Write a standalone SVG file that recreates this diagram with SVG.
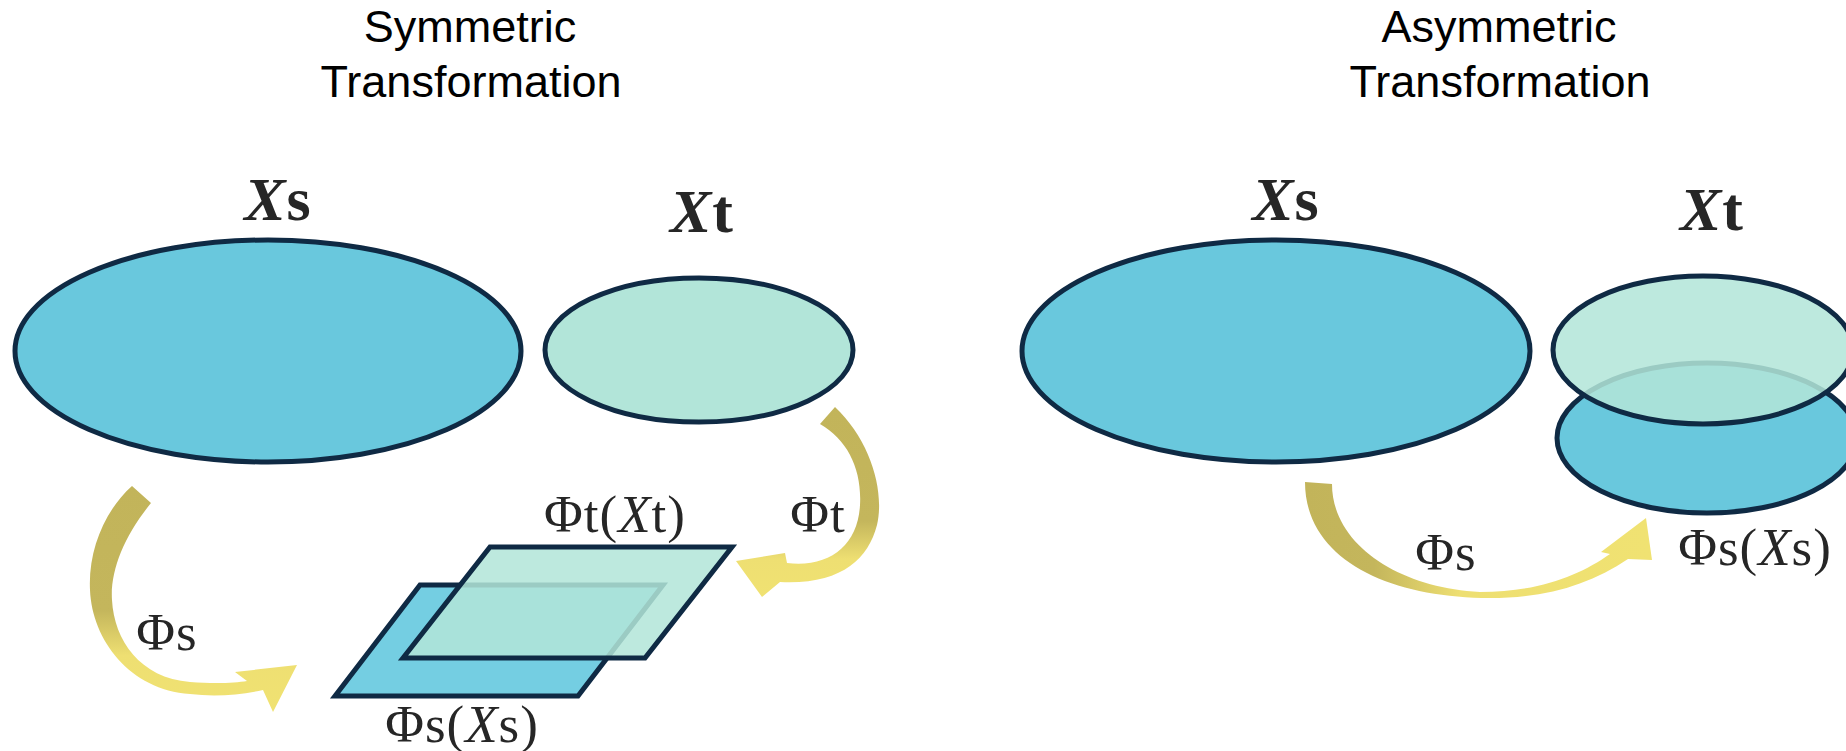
<svg xmlns="http://www.w3.org/2000/svg" width="1846" height="751" viewBox="0 0 1846 751">
  <style>
    .title { font-family: "Liberation Sans", Arial, sans-serif; font-size: 45px; fill: #000; text-anchor: middle; }
    .set { font-family: "Liberation Serif", "Times New Roman", serif; font-size: 62px; font-weight: bold; fill: #262626; text-anchor: middle; letter-spacing: 1px; }
    .set .v { font-style: italic; }
    .math { font-family: "Liberation Serif", "Times New Roman", serif; font-size: 53px; fill: #262626; text-anchor: middle; letter-spacing: 1px; }
    .math .v { font-style: italic; }
    .src { fill: #69C8DD; stroke: #0F2A44; stroke-width: 5; }
    .tgt { fill: #B2E5D9; stroke: #0F2A44; stroke-width: 5; }
    .tgt-over { fill: #B2E5D9; fill-opacity: 0.86; stroke: #0F2A44; stroke-width: 5; }
    .plane-src { fill: #74CEE2; stroke: #0F2A44; stroke-width: 5; stroke-linejoin: miter; }
    .plane-tgt { fill: #B2E5D9; fill-opacity: 0.86; stroke: #0F2A44; stroke-width: 5; stroke-linejoin: miter; }
  </style>
  <defs>
    <linearGradient id="gLeft" gradientUnits="userSpaceOnUse" x1="0" y1="486" x2="0" y2="712">
      <stop offset="0" stop-color="#C2B45A"/>
      <stop offset="0.55" stop-color="#C4B65C"/>
      <stop offset="0.75" stop-color="#EEDF72"/>
      <stop offset="1" stop-color="#F0E272"/>
    </linearGradient>
    <linearGradient id="gPhiT" gradientUnits="userSpaceOnUse" x1="0" y1="407" x2="0" y2="597">
      <stop offset="0" stop-color="#C2B45A"/>
      <stop offset="0.6" stop-color="#C4B65C"/>
      <stop offset="0.8" stop-color="#EEDF72"/>
      <stop offset="1" stop-color="#F0E272"/>
    </linearGradient>
    <linearGradient id="gRight" gradientUnits="userSpaceOnUse" x1="1305" y1="0" x2="1650" y2="0">
      <stop offset="0" stop-color="#C2B45A"/>
      <stop offset="0.2" stop-color="#C4B65C"/>
      <stop offset="0.45" stop-color="#EEDF72"/>
      <stop offset="1" stop-color="#F0E272"/>
    </linearGradient>
  </defs>

  <rect width="1846" height="751" fill="#FFFFFF"/>

  <g id="title-symmetric">
    <text class="title" x="470" y="42">Symmetric</text>
    <text class="title" x="471" y="97">Transformation</text>
  </g>
  <g id="title-asymmetric">
    <text class="title" x="1499" y="42">Asymmetric</text>
    <text class="title" x="1500" y="97">Transformation</text>
  </g>

  <!-- Symmetric panel -->
  <g id="node-xs-left">
    <ellipse class="src" cx="268" cy="351" rx="253" ry="111"/>
    <text class="set" x="278" y="220"><tspan class="v">X</tspan>s</text>
  </g>
  <g id="node-xt-left">
    <ellipse class="tgt" cx="699" cy="350" rx="154" ry="72"/>
    <text class="set" x="702" y="232"><tspan class="v">X</tspan>t</text>
  </g>
  <g id="node-phis-xs-left">
    <polygon class="plane-src" points="335,696 420,585 663,585 578,696"/>
    <text class="math" x="462" y="742">Φs(<tspan class="v">X</tspan>s)</text>
  </g>
  <g id="node-phit-xt-left">
    <polygon class="plane-tgt" points="403,658 490,547 732,547 645,658"/>
    <text class="math" x="615" y="532">Φt(<tspan class="v">X</tspan>t)</text>
  </g>

  <!-- Asymmetric panel -->
  <g id="node-xs-right">
    <ellipse class="src" cx="1276" cy="351" rx="254" ry="111"/>
    <text class="set" x="1286" y="220"><tspan class="v">X</tspan>s</text>
  </g>
  <g id="node-phis-xs-right">
    <ellipse class="src" cx="1707" cy="438" rx="150" ry="75"/>
    <text class="math" x="1755" y="565">Φs(<tspan class="v">X</tspan>s)</text>
  </g>
  <g id="node-xt-right">
    <ellipse class="tgt-over" cx="1703" cy="350" rx="150" ry="74"/>
    <text class="set" x="1712" y="230"><tspan class="v">X</tspan>t</text>
  </g>

  <g id="connectors">
    <path id="arrow-phis-left" fill="url(#gLeft)" d="M132,486 L151,503 C125,535 110,570 112,600 C114,640 140,678 190,682 C215,684 235,683 247,681 L235,672 L297,665 L273,712 L263,690 C240,695 215,697 190,694 C130,690 92,640 90,590 C88,550 105,510 132,486 Z"/>
    <path id="arrow-phit-left" fill="url(#gPhiT)" d="M835,407 C870,440 885,490 877,525 C868,560 840,585 780,582 L762,597 L736,561 L785,553 L787,563 C830,568 858,545 860,505 C862,470 848,440 820,424 Z"/>
    <path id="arrow-phis-right" fill="url(#gRight)" d="M1305,482 L1332,484 C1332,545 1400,588 1480,592 C1540,592 1580,575 1610,554 L1601,552 L1646,518 L1652,560 L1628,559 C1590,585 1545,598 1490,598 C1390,598 1305,560 1305,482 Z"/>
    <text class="math" x="167" y="650">Φs</text>
    <text class="math" x="818" y="532">Φt</text>
    <text class="math" x="1446" y="570">Φs</text>
  </g>
</svg>
